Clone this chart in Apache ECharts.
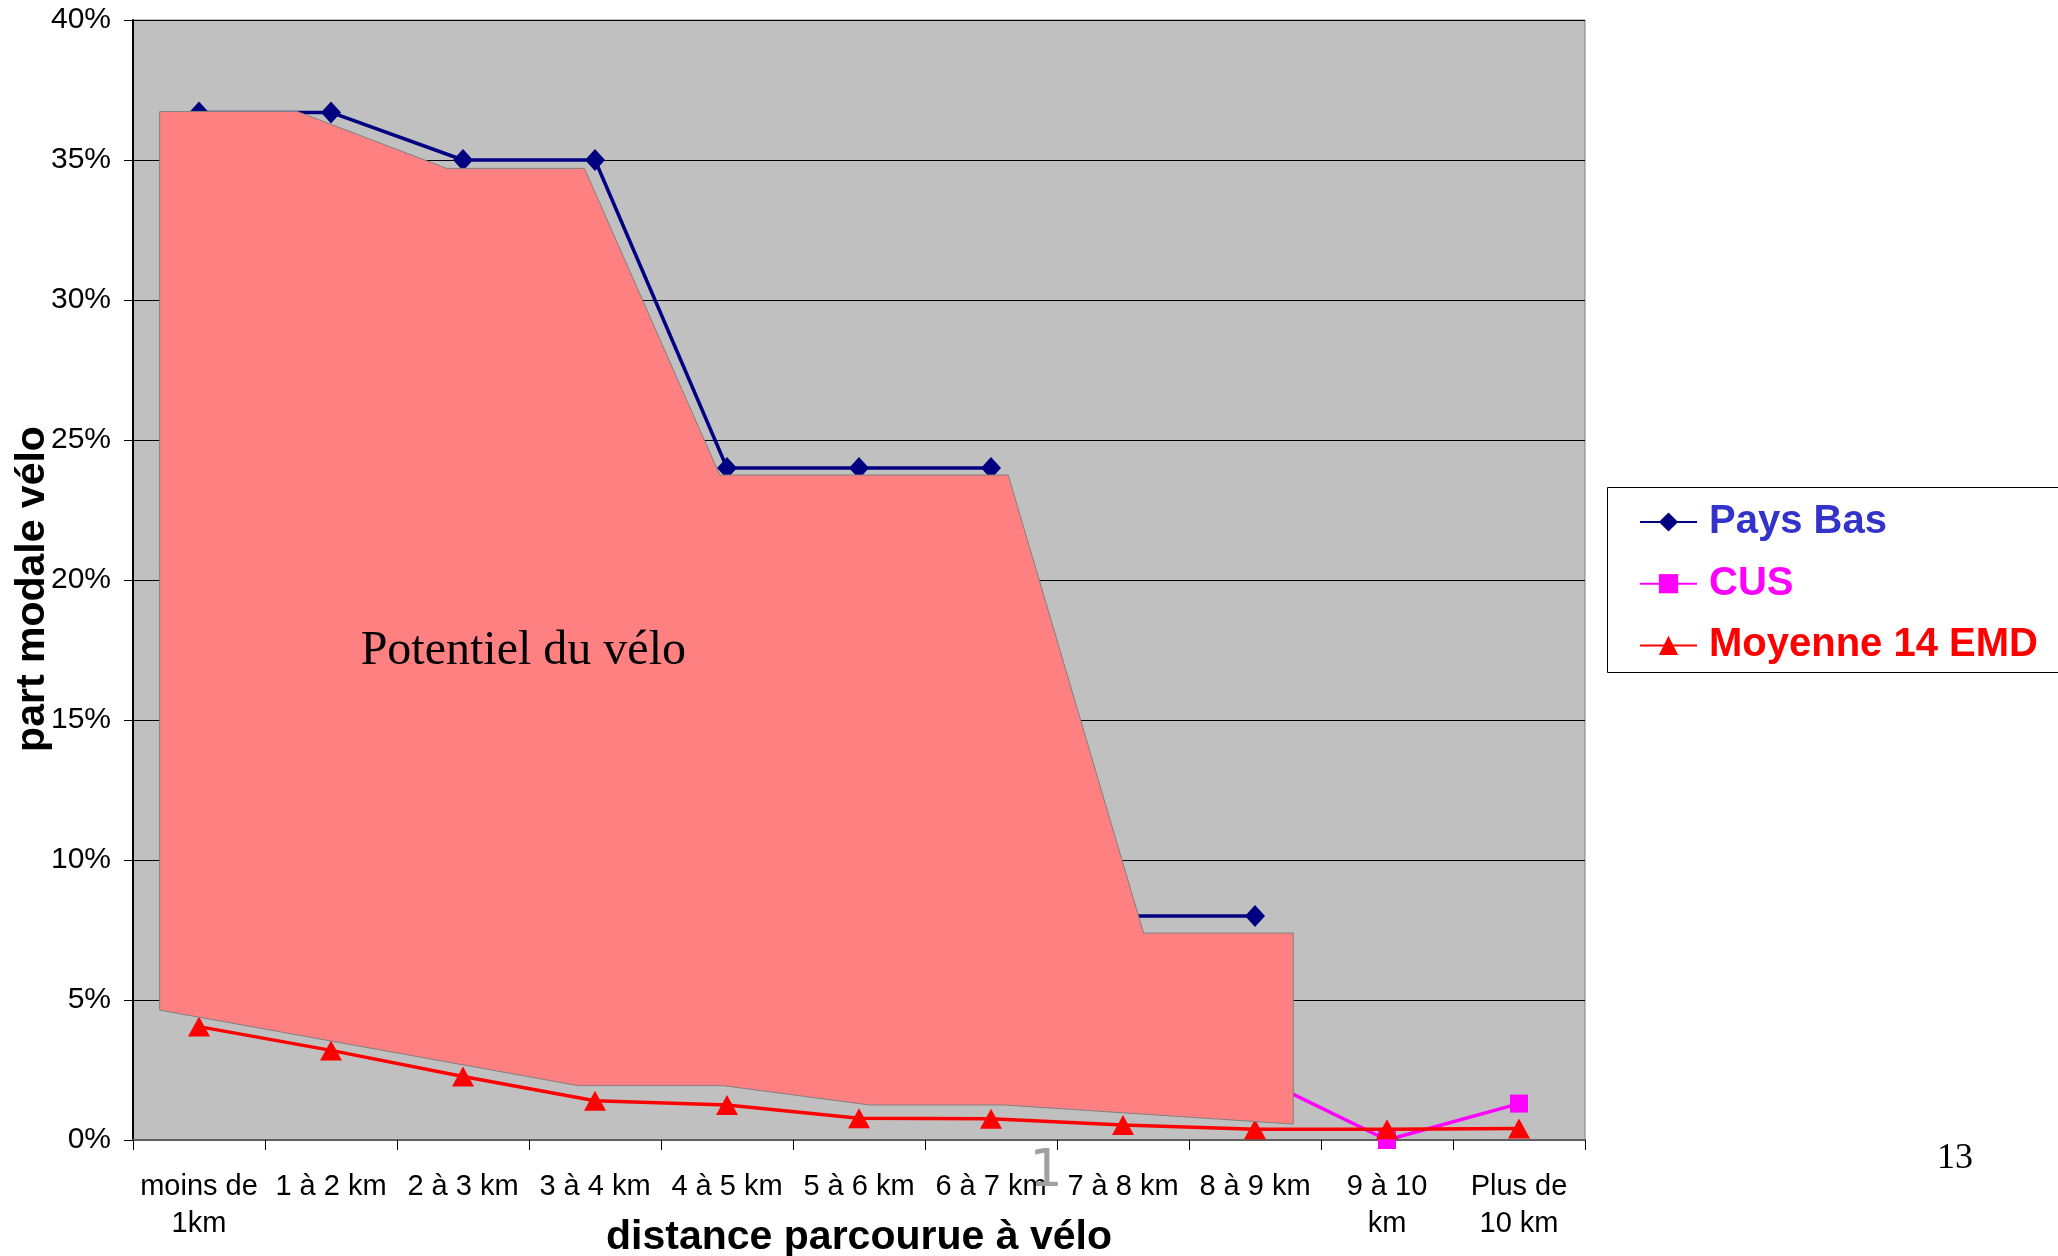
<!DOCTYPE html>
<html>
<head>
<meta charset="utf-8">
<script src="https://cdn.jsdelivr.net/npm/echarts@6/dist/echarts.min.js"></script>
<style>
html,body{margin:0;padding:0;background:#fff;}
#chart{width:2058px;height:1256px;}
</style>
</head>
<body>
<div id="chart"></div>
<script>
// ---- data ----
const categories = ['moins de\n1km', '1 à 2 km', '2 à 3 km', '3 à 4 km', '4 à 5 km', '5 à 6 km', '6 à 7 km', '7 à 8 km', '8 à 9 km', '9 à 10\nkm', 'Plus de\n10 km'];
const paysBas = [36.7, 36.7, 35, 35, 24, 24, 24, 8, 8, null, null];
const cus = [null, null, null, null, null, null, null, null, 2.3, 0, 1.3];
const moyenne14EMD = [4.05, 3.2, 2.27, 1.4, 1.25, 0.78, 0.76, 0.54, 0.38, 0.38, 0.41];
const yTicks = [0, 5, 10, 15, 20, 25, 30, 35, 40];
// "Potentiel du vélo" shape, in axis units (category index, %)
const potentielX = [-0.298, 0.745, 1.877, 2.92, 3.945, 6.13, 7.156, 8.29, 8.29, 6.104, 5.081, 3.973, 2.874, -0.298];
const potentielY = [36.73, 36.73, 34.70, 34.70, 23.75, 23.75, 7.39, 7.39, 0.57, 1.25, 1.25, 1.94, 1.94, 4.64];
const potentielLabel = 'Potentiel du vélo';
const potentielLabelAt = [2.457, 17.45];

const SANS = '"Liberation Sans", Arial, Helvetica, sans-serif';
const SERIF = '"Liberation Serif", "Times New Roman", serif';

const chart = echarts.init(document.getElementById('chart'), null, {renderer: 'canvas'});

const option = {
  backgroundColor: '#ffffff',
  animation: false,
  textStyle: {fontFamily: SANS},
  grid: {
    left: 133, top: 20, right: 473, bottom: 116,
    show: true, backgroundColor: '#C0C0C0', borderColor: '#808080', borderWidth: 1,
    containLabel: false, outerBoundsMode: 'none'
  },
  legend: {
    orient: 'vertical',
    left: 1639, top: 500, padding: 0,
    itemWidth: 57, itemHeight: 24, itemGap: 17.7,
    textStyle: {fontFamily: SANS, fontSize: 40, fontWeight: 'bold', lineHeight: 44, padding: [0, 0, 0, 7]},
    data: [
      {name: 'Pays Bas', textStyle: {color: '#3333CC'}},
      {name: 'CUS', textStyle: {color: '#FF00FF'}},
      {name: 'Moyenne 14 EMD', textStyle: {color: '#FF0000'}}
    ]
  },
  xAxis: [{
    type: 'category',
    data: categories,
    boundaryGap: true,
    name: 'distance parcourue à vélo',
    nameLocation: 'middle',
    nameGap: 77,
    nameMoveOverlap: false,
    nameTextStyle: {fontFamily: SANS, fontSize: 41, fontWeight: 'bold', color: '#000'},
    axisLine: {show: true, onZero: false, lineStyle: {color: '#606060', width: 2}},
    axisTick: {show: true, inside: false, length: 10, lineStyle: {color: '#000', width: 1}},
    axisLabel: {interval: 0, fontFamily: SANS, fontSize: 29, color: '#000', lineHeight: 37, margin: 28},
    splitLine: {show: false}
  }, {
    type: 'value', min: -0.5, max: 10.5, show: false
  }],
  yAxis: {
    type: 'value',
    min: yTicks[0], max: yTicks[yTicks.length - 1], interval: yTicks[1] - yTicks[0],
    name: 'part modale vélo',
    nameLocation: 'middle',
    nameGap: 80,
    nameMoveOverlap: false,
    nameTextStyle: {fontFamily: SANS, fontSize: 41, fontWeight: 'bold', color: '#000', padding: [0, 18, 0, 0]},
    axisLine: {show: true, onZero: false, lineStyle: {color: '#000', width: 2}},
    axisTick: {show: true, inside: false, length: 9, lineStyle: {color: '#000', width: 1}},
    axisLabel: {formatter: '{value}%', fontFamily: SANS, fontSize: 30, color: '#000', margin: 22},
    splitLine: {show: true, lineStyle: {color: '#000', width: 1}}
  },
  series: [{
    name: 'Pays Bas', type: 'line', data: paysBas,
    symbol: 'diamond', symbolSize: [20, 22],
    lineStyle: {color: '#000080', width: 3.5},
    itemStyle: {color: '#000080'},
    connectNulls: false, z: 2
  }, {
    name: 'CUS', type: 'line', data: cus,
    symbol: 'rect', symbolSize: [18, 18],
    lineStyle: {color: '#FF00FF', width: 3.5},
    itemStyle: {color: '#FF00FF'},
    connectNulls: false, z: 2
  }, {
    name: 'Moyenne 14 EMD', type: 'line', data: moyenne14EMD,
    symbol: 'triangle', symbolSize: [22, 20],
    lineStyle: {color: '#FF0000', width: 3.5},
    itemStyle: {color: '#FF0000'},
    z: 2
  }, {
    name: 'potentiel', type: 'custom',
    xAxisIndex: 1, yAxisIndex: 0,
    data: [[0, 0]],
    z: 5, silent: true,
    renderItem: function (params, api) {
      const pts = potentielX.map(function (x, i) { return api.coord([x, potentielY[i]]); });
      const c = api.coord(potentielLabelAt);
      return {
        type: 'group',
        children: [{
          type: 'polygon',
          shape: {points: pts},
          style: {fill: '#FF8080', stroke: '#808080', lineWidth: 1}
        }, {
          type: 'text',
          x: c[0], y: c[1],
          style: {text: potentielLabel, fontFamily: SERIF, fontSize: 48, fill: '#000', align: 'center', verticalAlign: 'middle'}
        }]
      };
    }
  }],
  graphic: [{
    type: 'rect', shape: {x: 1607.5, y: 487.5, width: 520, height: 185},
    style: {fill: 'none', stroke: '#000', lineWidth: 1}, z: 10, silent: true
  }, {
    type: 'text', x: 1046, y: 1172,
    style: {text: '1', fontFamily: '"DejaVu Sans", sans-serif', fontSize: 52, fill: '#A0A0A0', align: 'center', verticalAlign: 'middle'},
    z: 10
  }, {
    type: 'text', x: 1955, y: 1159,
    style: {text: '13', fontFamily: SERIF, fontSize: 36, fill: '#000', align: 'center', verticalAlign: 'middle'},
    z: 10
  }]
};
chart.setOption(option);
</script>
</body>
</html>
